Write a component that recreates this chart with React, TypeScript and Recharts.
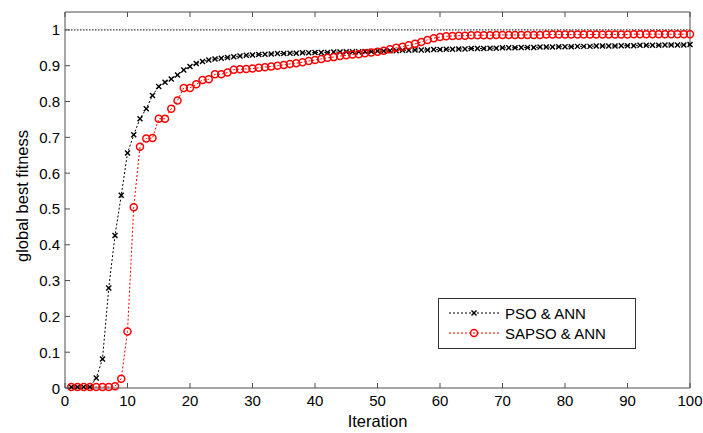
import { Legend, Line, LineChart, ReferenceLine, XAxis, YAxis } from "recharts";

const iterations = Array.from({ length: 100 }, (_, i) => i + 1);

const psoAnn = [
  0.003, 0.003, 0.003, 0.003, 0.028, 0.081, 0.279, 0.426, 0.538, 0.656,
  0.707, 0.752, 0.780, 0.817, 0.842, 0.854, 0.863, 0.874, 0.888, 0.898,
  0.906, 0.912, 0.916, 0.919, 0.921, 0.923, 0.925, 0.927, 0.929, 0.930,
  0.931, 0.932, 0.933, 0.934, 0.934, 0.935, 0.935, 0.936, 0.936, 0.937,
  0.937, 0.937, 0.938, 0.938, 0.939, 0.939, 0.939, 0.940, 0.940, 0.941,
  0.941, 0.942, 0.942, 0.943, 0.943, 0.944, 0.944, 0.944, 0.945, 0.945,
  0.946, 0.946, 0.947, 0.947, 0.948, 0.948, 0.948, 0.949, 0.949, 0.950,
  0.950, 0.950, 0.951, 0.951, 0.951, 0.952, 0.952, 0.952, 0.953, 0.953,
  0.953, 0.954, 0.954, 0.954, 0.955, 0.955, 0.955, 0.955, 0.956, 0.956,
  0.956, 0.957, 0.957, 0.957, 0.957, 0.958, 0.958, 0.958, 0.958, 0.959,
];

const sapsoAnn = [
  0.003, 0.003, 0.003, 0.003, 0.003, 0.003, 0.003, 0.005, 0.026, 0.158,
  0.505, 0.674, 0.697, 0.698, 0.752, 0.752, 0.780, 0.803, 0.838, 0.838,
  0.848, 0.860, 0.862, 0.876, 0.876, 0.881, 0.889, 0.890, 0.891, 0.892,
  0.894, 0.896, 0.898, 0.900, 0.902, 0.905, 0.907, 0.910, 0.913, 0.916,
  0.919, 0.922, 0.924, 0.927, 0.929, 0.931, 0.932, 0.935, 0.937, 0.939,
  0.942, 0.946, 0.950, 0.953, 0.957, 0.961, 0.966, 0.972, 0.977, 0.980,
  0.982, 0.983, 0.984, 0.984, 0.985, 0.985, 0.985, 0.985, 0.986, 0.986,
  0.986, 0.986, 0.986, 0.986, 0.986, 0.986, 0.987, 0.987, 0.987, 0.987,
  0.987, 0.987, 0.987, 0.987, 0.987, 0.987, 0.987, 0.987, 0.987, 0.987,
  0.988, 0.988, 0.988, 0.988, 0.988, 0.988, 0.988, 0.988, 0.988, 0.988,
];

const xTicks = [0, 10, 20, 30, 40, 50, 60, 70, 80, 90, 100];
const yTicks = [0, 0.1, 0.2, 0.3, 0.4, 0.5, 0.6, 0.7, 0.8, 0.9, 1];

const seriesNames = ["PSO & ANN", "SAPSO & ANN"];

const data = iterations.map((it, i) => ({
  iter: it,
  pso: psoAnn[i],
  sapso: sapsoAnn[i],
}));

const FONT = '"Liberation Sans", Arial, sans-serif';
const FRAME = "#4d4d4d";
const RED = "#ff0000";

const BottomTick = ({ x, y, payload }: any) => (
  <g>
    <line x1={x} x2={x} y1={y} y2={y - 5} stroke={FRAME} />
    <text x={x} y={y + 18} textAnchor="middle" fontSize={15} fontFamily={FONT} fill="#000">
      {payload.value}
    </text>
  </g>
);

const TopTick = ({ x, y }: any) => <line x1={x} x2={x} y1={y} y2={y + 5} stroke={FRAME} />;

const LeftTick = ({ x, y, payload }: any) => (
  <g>
    <line x1={x} x2={x + 5} y1={y} y2={y} stroke={FRAME} />
    <text x={x - 5} y={y + 5.5} textAnchor="end" fontSize={15} fontFamily={FONT} fill="#000">
      {Number(payload.value.toFixed(1))}
    </text>
  </g>
);

const RightTick = ({ x, y }: any) => <line x1={x} x2={x - 5} y1={y} y2={y} stroke={FRAME} />;

const XMark = ({ cx, cy }: any) => (
  <g>
    <line x1={cx - 2.5} x2={cx + 2.5} y1={cy - 2.5} y2={cy + 2.5} stroke="#000" strokeWidth={1.4} />
    <line x1={cx - 2.5} x2={cx + 2.5} y1={cy + 2.5} y2={cy - 2.5} stroke="#000" strokeWidth={1.4} />
  </g>
);

const RingMark = ({ cx, cy }: any) => (
  <circle cx={cx} cy={cy} r={3.5} fill="none" stroke={RED} strokeWidth={1.5} />
);

const LegendBox = () => (
  <svg width={199} height={52}>
    <rect x={0.5} y={0.5} width={197} height={50} fill="#fff" stroke="#333" />
    <line x1={11} x2={61} y1={15} y2={15} stroke="#000" strokeDasharray="2 2" />
    <XMark cx={36} cy={15} />
    <text x={67} y={20.5} fontSize={15} fontFamily={FONT} fill="#000">
      {seriesNames[0]}
    </text>
    <line x1={11} x2={61} y1={35} y2={35} stroke={RED} strokeDasharray="2 2" />
    <RingMark cx={36} cy={35} />
    <text x={67} y={40.5} fontSize={15} fontFamily={FONT} fill="#000">
      {seriesNames[1]}
    </text>
  </svg>
);

const YLabel = ({ viewBox }: any) => {
  const cy = viewBox.y + viewBox.height / 2 - 4;
  return (
    <text
      x={22}
      y={cy}
      transform={`rotate(-90, 22, ${cy})`}
      textAnchor="middle"
      dominantBaseline="central"
      fontSize={16.5}
      fontFamily={FONT}
      fill="#000"
    >
      global best fitness
    </text>
  );
};

export default function App() {
  return (
    <div style={{ position: "relative", width: 703, height: 433, background: "#fff" }}>
      <style>{"body{margin:0}"}</style>
      <LineChart
        width={703}
        height={433}
        data={data}
        margin={{ top: 11, right: 12, bottom: 0, left: 0 }}
      >
        <XAxis
          dataKey="iter"
          type="number"
          domain={[0, 100]}
          ticks={xTicks}
          interval={0}
          height={45}
          tickSize={0}
          tickMargin={0}
          tickLine={false}
          tick={<BottomTick />}
          axisLine={{ stroke: FRAME }}
          label={{
            value: "Iteration",
            position: "insideBottom",
            offset: 6,
            fontSize: 16.5,
            fontFamily: FONT,
            fill: "#000",
          }}
        />
        <XAxis
          xAxisId="top"
          dataKey="iter"
          type="number"
          orientation="top"
          domain={[0, 100]}
          ticks={xTicks}
          interval={0}
          height={1}
          tickSize={0}
          tickMargin={0}
          tickLine={false}
          tick={<TopTick />}
          axisLine={{ stroke: FRAME }}
        />
        <YAxis
          type="number"
          domain={[0, 1.05]}
          ticks={yTicks}
          interval={0}
          width={65}
          tickSize={0}
          tickMargin={0}
          tickLine={false}
          tick={<LeftTick />}
          axisLine={{ stroke: FRAME }}
          label={<YLabel />}
        />
        <YAxis
          yAxisId="right"
          orientation="right"
          type="number"
          domain={[0, 1.05]}
          ticks={yTicks}
          interval={0}
          width={1}
          tickSize={0}
          tickMargin={0}
          tickLine={false}
          tick={<RightTick />}
          axisLine={{ stroke: FRAME }}
        />
        <ReferenceLine y={1} stroke="#000" strokeDasharray="1.5 1.5" />
        <Line
          dataKey="pso"
          name={seriesNames[0]}
          stroke="#000"
          strokeWidth={1}
          strokeDasharray="2 2"
          dot={(props: any) => <XMark key={`p-${props.index}`} cx={props.cx} cy={props.cy} />}
          activeDot={false}
          isAnimationActive={false}
        />
        <Line
          dataKey="sapso"
          name={seriesNames[1]}
          stroke={RED}
          strokeWidth={1}
          strokeDasharray="2 2"
          dot={(props: any) => <RingMark key={`s-${props.index}`} cx={props.cx} cy={props.cy} />}
          activeDot={false}
          isAnimationActive={false}
        />
        <Legend
          layout="vertical"
          align="center"
          verticalAlign="middle"
          content={<LegendBox />}
          wrapperStyle={{ left: 438, top: 298, width: 199, height: 52 }}
        />
      </LineChart>
    </div>
  );
}
